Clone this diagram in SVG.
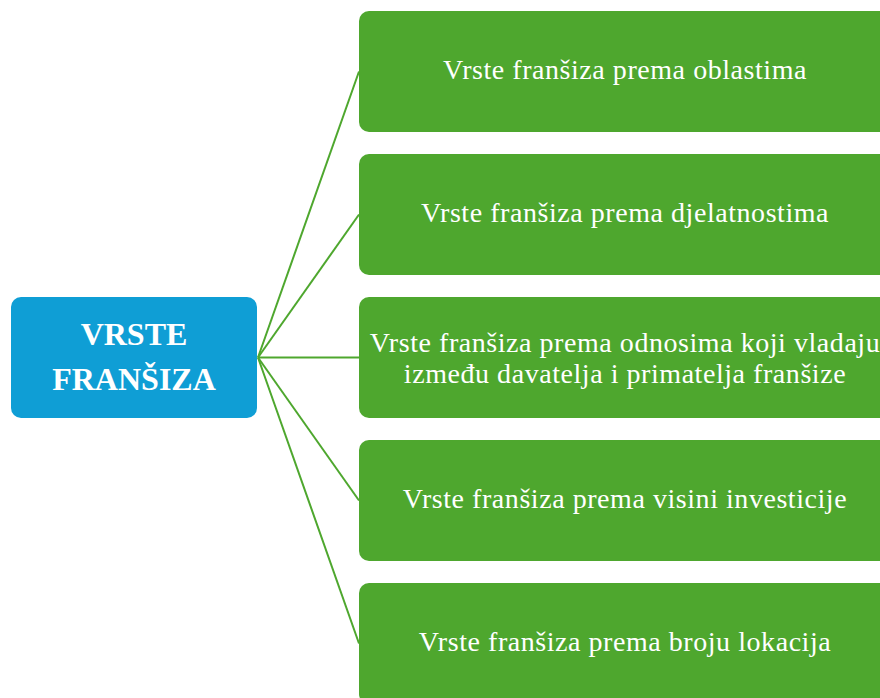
<svg xmlns="http://www.w3.org/2000/svg" width="880" height="698" viewBox="0 0 880 698">
<style>
.g{fill:#4EA72E}
.b{fill:#0F9ED5}
.t{font-family:"Liberation Serif","Times New Roman",serif;font-size:28px;letter-spacing:0.55px;fill:#fff;text-anchor:middle}
.tb{font-family:"Liberation Serif","Times New Roman",serif;font-size:32px;font-weight:bold;fill:#fff;text-anchor:middle}
.c{stroke:#4EA72E;stroke-width:2;fill:none}
</style>
<rect width="880" height="698" fill="#fff"/>
<g id="connectors">
<line class="c" x1="258" y1="357.5" x2="359" y2="71.5"/>
<line class="c" x1="258" y1="357.5" x2="359" y2="214.5"/>
<line class="c" x1="258" y1="357.5" x2="359" y2="357.5"/>
<line class="c" x1="258" y1="357.5" x2="359" y2="500.5"/>
<line class="c" x1="258" y1="357.5" x2="359" y2="643.5"/>
</g>
<g id="root">
<rect class="b" x="11" y="297" width="246" height="121" rx="10"/>
<text class="tb" x="134" y="345">VRSTE</text>
<text class="tb" x="134" y="390">FRANŠIZA</text>
</g>
<g id="n1">
<rect class="g" x="359" y="11" width="532" height="121" rx="10"/>
<text class="t" x="625" y="79">Vrste franšiza prema oblastima</text>
</g>
<g id="n2">
<rect class="g" x="359" y="154" width="532" height="121" rx="10"/>
<text class="t" x="625" y="222">Vrste franšiza prema djelatnostima</text>
</g>
<g id="n3">
<rect class="g" x="359" y="297" width="532" height="121" rx="10"/>
<text class="t" x="625" y="352">Vrste franšiza prema odnosima koji vladaju</text>
<text class="t" x="625" y="383">između davatelja i primatelja franšize</text>
</g>
<g id="n4">
<rect class="g" x="359" y="440" width="532" height="121" rx="10"/>
<text class="t" x="625" y="508">Vrste franšiza prema visini investicije</text>
</g>
<g id="n5">
<rect class="g" x="359" y="583" width="532" height="121" rx="10"/>
<text class="t" x="625" y="651">Vrste franšiza prema broju lokacija</text>
</g>
</svg>
